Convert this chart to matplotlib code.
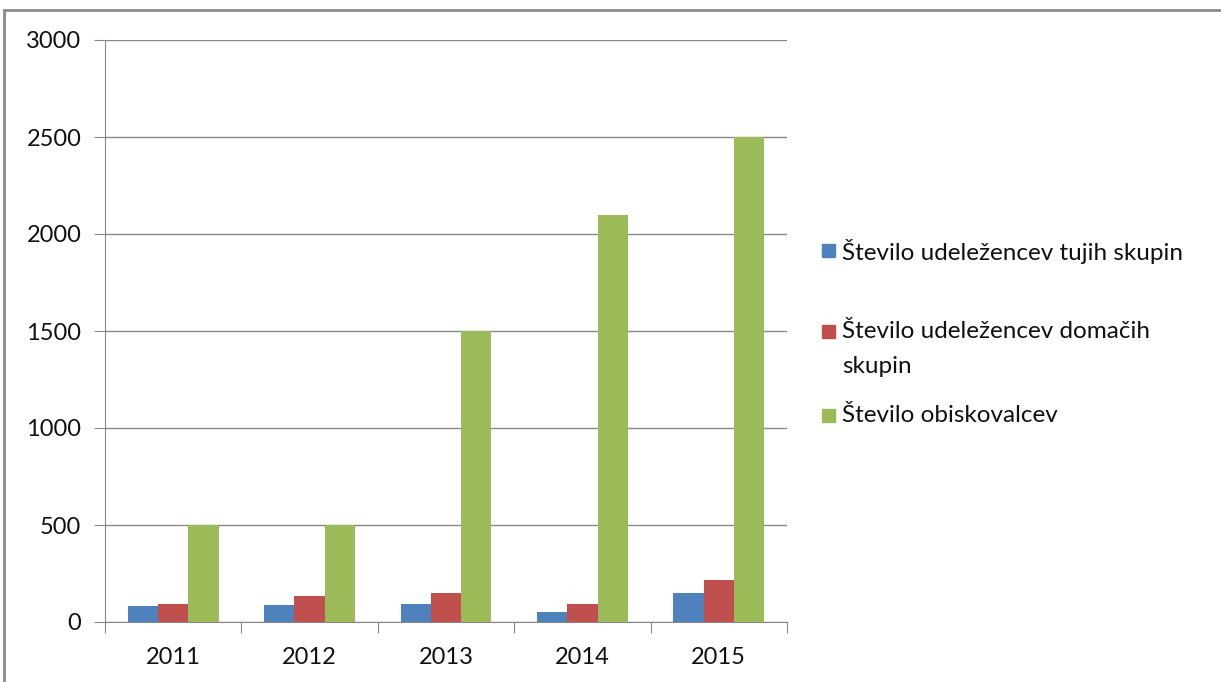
import matplotlib
matplotlib.use("Agg")
import matplotlib.pyplot as plt
from matplotlib.patches import Rectangle
from matplotlib.lines import Line2D
import numpy as np

years = ["2011", "2012", "2013", "2014", "2015"]
series_names = ["Število udeležencev tujih skupin",
                "Število udeležencev domačih\nskupin",
                "Število obiskovalcev"]
tujih = [80, 90, 95, 50, 150]
domacih = [95, 135, 150, 95, 215]
obiskovalcev = [500, 500, 1500, 2100, 2500]
yticks = [0, 500, 1000, 1500, 2000, 2500, 3000]
colors = ["#4F81BD", "#C0504D", "#9BBB59"]

plt.rcParams['font.family'] = ['Lato', 'DejaVu Sans']
W, H = 1221, 682
fig = plt.figure(figsize=(W/100, H/100), dpi=100)
ax = fig.add_axes([105/W, (H-622)/H, (787-105)/W, (622-40)/H])

x = np.arange(len(years))
bw = 1/4.5
for i, vals in enumerate([tujih, domacih, obiskovalcev]):
    ax.bar(x + (i-1)*bw, vals, width=bw, color=colors[i], zorder=3)

fs = 17
ax.set_xlim(-0.5, len(years)-0.5)
ax.set_ylim(0, 3000)
ax.set_yticks(yticks)
ax.set_yticklabels([str(v) for v in yticks], fontsize=fs)
ax.set_xticks(np.arange(len(years)+1)-0.5, minor=False)
ax.set_xticklabels([])
ax.set_xticks(x, minor=True)
ax.set_xticklabels(years, minor=True, fontsize=fs)
gc = "#888888"
ax.yaxis.grid(True, color=gc, linewidth=1, zorder=0)
for s in ["top", "right"]:
    ax.spines[s].set_visible(False)
for s in ["left", "bottom"]:
    ax.spines[s].set_color(gc)
ax.tick_params(axis='y', length=8, color=gc, pad=9, labelcolor="#111111")
ax.tick_params(axis='x', which='major', length=8, color=gc)
ax.tick_params(axis='x', which='minor', length=0, pad=18, labelcolor="#111111")

# legend (manual placement, Excel-style)
leg_y = [251, 332, 416]
lfs = 17.5
for i, name in enumerate(series_names):
    yc = leg_y[i]
    fig.add_artist(Rectangle((822/W, (H-yc-6)/H), 13/W, 13/H,
                             transform=fig.transFigure, color=colors[i]))
    if '\n' in name:
        fig.text(842/W, (H-yc+11)/H, name, fontsize=lfs, va='top', ha='left',
                 color="#111111", linespacing=1.85)
    else:
        fig.text(842/W, (H-yc)/H, name, fontsize=lfs, va='center', ha='left',
                 color="#111111")

# chart border
fig.add_artist(Line2D([4/W, 1], [(H-10)/H, (H-10)/H], color="#8c8c8c", lw=2,
                      transform=fig.transFigure))
fig.add_artist(Line2D([4/W, 4/W], [0, (H-10)/H], color="#8c8c8c", lw=2,
                      transform=fig.transFigure))

fig.savefig("out.png", dpi=100, facecolor="white")
